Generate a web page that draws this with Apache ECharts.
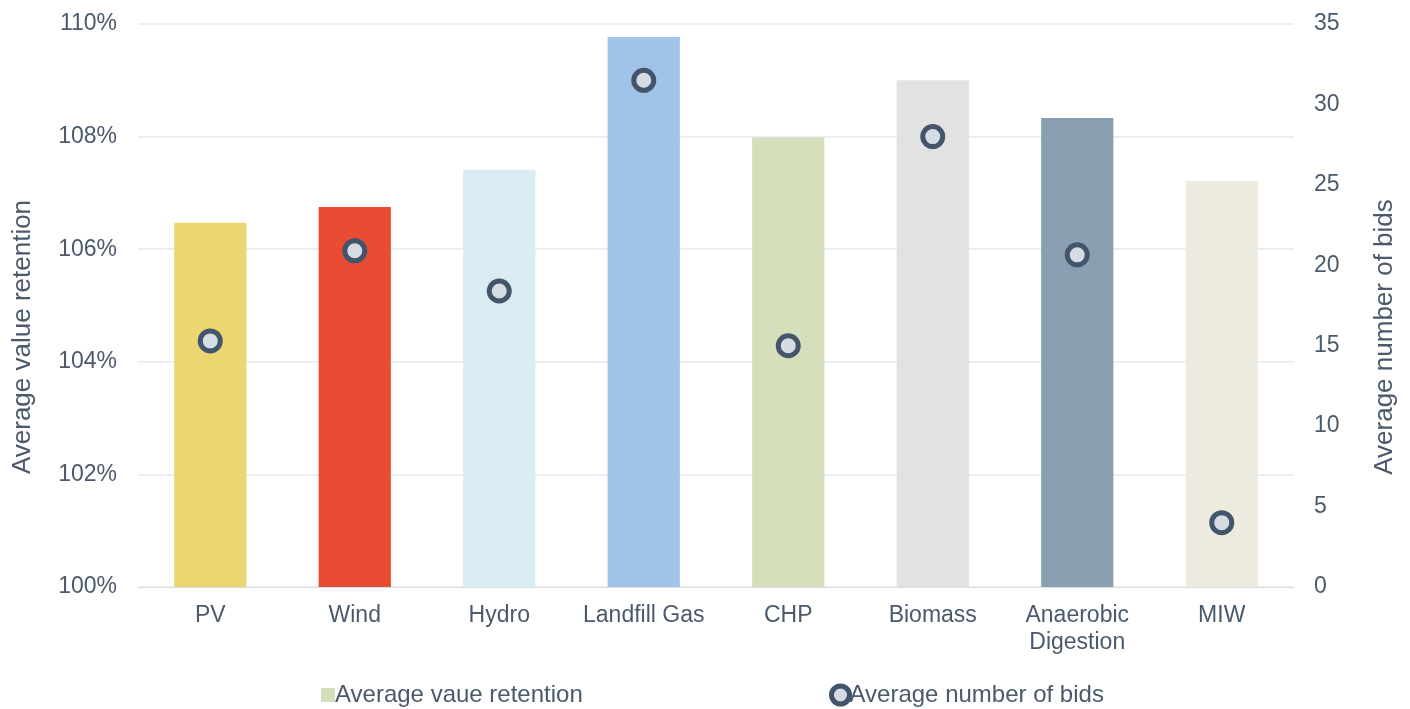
<!DOCTYPE html>
<html><head><meta charset="utf-8">
<script src="https://cdn.jsdelivr.net/npm/echarts@6/dist/echarts.min.js"></script>
<style>html,body{margin:0;padding:0;background:#fff}#c{width:1410px;height:709px}</style>
</head><body><div id="c"></div>
<script>
const categories = ['PV','Wind','Hydro','Landfill Gas','CHP','Biomass','Anaerobic\nDigestion','MIW'];
const retention = [106.47, 106.75, 107.41, 109.77, 107.99, 109.0, 108.33, 107.21];
const bids = [15.3, 20.9, 18.4, 31.5, 15.0, 28.0, 20.65, 4.0];
const barColors = ['#EBD672','#E84C33','#D9ECF2','#A0C4E8','#D5DFBC','#E2E2E2','#8A9FB2','#EDEBE0'];
const txt = '#4A5A6C';
const font = 'Liberation Sans, Arial, sans-serif';
const chart = echarts.init(document.getElementById('c'));
chart.setOption({
  animation: false,
  textStyle: {fontFamily: font},
  grid: {left: 138, right: 116, top: 24, bottom: 122},
  graphic: [
    {type: 'text', x: 10, y: 337, rotation: Math.PI / 2,
     style: {text: 'Average value retention', fill: txt, font: '26px ' + font, align: 'center', verticalAlign: 'top'}},
    {type: 'text', x: 1372, y: 337, rotation: Math.PI / 2,
     style: {text: 'Average number of bids', fill: txt, font: '26px ' + font, align: 'center', verticalAlign: 'top'}}
  ],
  legend: [
    {data: [{name: 'Average vaue retention', icon: 'rect', itemStyle: {color: '#D5DFBC'}}],
     left: 316, top: 678, itemWidth: 14, itemHeight: 14, itemGap: 4,
     textStyle: {color: txt, fontSize: 24, fontFamily: font, padding: [0,0,0,-5]}},
    {data: [{name: 'Average number of bids', icon: 'circle',
             itemStyle: {color: '#D6DCE4', borderColor: '#44546A', borderWidth: 5}}],
     left: 824, top: 678, itemWidth: 18, itemHeight: 18,
     textStyle: {color: txt, fontSize: 24, fontFamily: font, padding: [0,0,0,-5]}}
  ],
  xAxis: {
    type: 'category', data: categories,
    axisLine: {show: true, lineStyle: {color: '#D9DEE5', width: 1}},
    axisTick: {show: false},
    axisLabel: {color: txt, fontSize: 23, margin: 15, lineHeight: 27, interval: 0}
  },
  yAxis: [
    {type: 'value', min: 100, max: 110, interval: 2,
     axisLabel: {color: txt, fontSize: 23, margin: 21, formatter: v => v + '%'},
     splitLine: {lineStyle: {color: '#E4E8EE', width: 1.5}},
     axisLine: {show: false}, axisTick: {show: false}},
    {type: 'value', min: 0, max: 35, interval: 5,
     axisLabel: {color: txt, fontSize: 23, margin: 20},
     splitLine: {show: false}, axisLine: {show: false}, axisTick: {show: false}}
  ],
  series: [
    {name: 'Average vaue retention', type: 'bar', yAxisIndex: 0, barWidth: '50%',
     data: retention.map((v, i) => ({value: v, itemStyle: {color: barColors[i]}})),
     itemStyle: {color: '#D5DFBC'}},
    {name: 'Average number of bids', type: 'scatter', yAxisIndex: 1, data: bids,
     symbol: 'circle', symbolSize: 20,
     itemStyle: {color: '#D6DCE4', borderColor: '#44546A', borderWidth: 5, opacity: 1}}
  ]
});
</script></body></html>
